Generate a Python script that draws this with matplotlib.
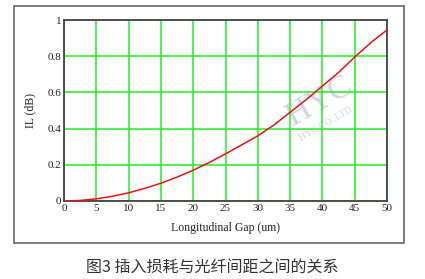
import matplotlib.pyplot as plt
from matplotlib.patches import Rectangle

# values
gap = [0, 2.5, 5, 7.5, 10, 12.5, 15, 17.5, 20, 22.5, 25, 27.5, 30, 32.5, 35, 37.5, 40, 42.5, 45, 47.5, 50]
il = [0, 0.003, 0.012, 0.026, 0.045, 0.07, 0.098, 0.132, 0.17, 0.213, 0.26, 0.31, 0.36, 0.42, 0.49, 0.56, 0.635, 0.71, 0.795, 0.875, 0.945]
xticks = [0, 5, 10, 15, 20, 25, 30, 35, 40, 45, 50]
yticks = [0, 0.2, 0.4, 0.6, 0.8, 1]
ytick_labels = ['0', '0.2', '0.4', '0.6', '0.8', '1']
caption = '图3 插入损耗与光纤间距之间的关系'

fig = plt.figure(figsize=(4.25, 2.79), dpi=100)

# outer frame
fig.patches.append(Rectangle((0.033, 0.129), 0.918, 0.849, transform=fig.transFigure,
                             fill=False, edgecolor='#666666', linewidth=1.2))

ax = fig.add_axes([0.1506, 0.2796, 0.76, 0.6487])
ax.plot(gap, il, color='#ee1111', linewidth=1.1, zorder=3)
ax.set_xlim(0, 50)
ax.set_ylim(0, 1)
ax.set_xticks(xticks)
ax.set_yticks(yticks)
ax.set_yticklabels(ytick_labels)
ax.grid(True, color='#22ee22', linewidth=1.1)
ax.tick_params(length=0, labelsize=8, pad=2, colors='#222222')
for lab in ax.get_xticklabels() + ax.get_yticklabels():
    lab.set_family('Liberation Serif')
for s in ax.spines.values():
    s.set_color('#444444')
    s.set_linewidth(1.3)

ax.set_xlabel('Longitudinal Gap (um)', family='Liberation Serif', fontsize=8.5, labelpad=7, color='#222222')
ax.set_ylabel('IL (dB)', family='Liberation Serif', fontsize=8.5, labelpad=8, color='#222222')

# watermark
ax.text(39.5, 0.55, 'HYC', rotation=30, fontsize=24, color='#c4c8dc', family='Liberation Serif',
        ha='center', va='center', zorder=1, alpha=0.8)
ax.text(40.5, 0.43, 'HYC CO.,LTD', rotation=30, fontsize=7, color='#c4c8dc', family='Liberation Serif',
        ha='center', va='center', zorder=1, alpha=0.8)

fig.text(0.5, 0.043, caption, ha='center', va='center', fontsize=11.5, color='#333333',
         family=['Noto Sans CJK SC', 'DejaVu Sans'])

fig.savefig('out.png', dpi=100)
